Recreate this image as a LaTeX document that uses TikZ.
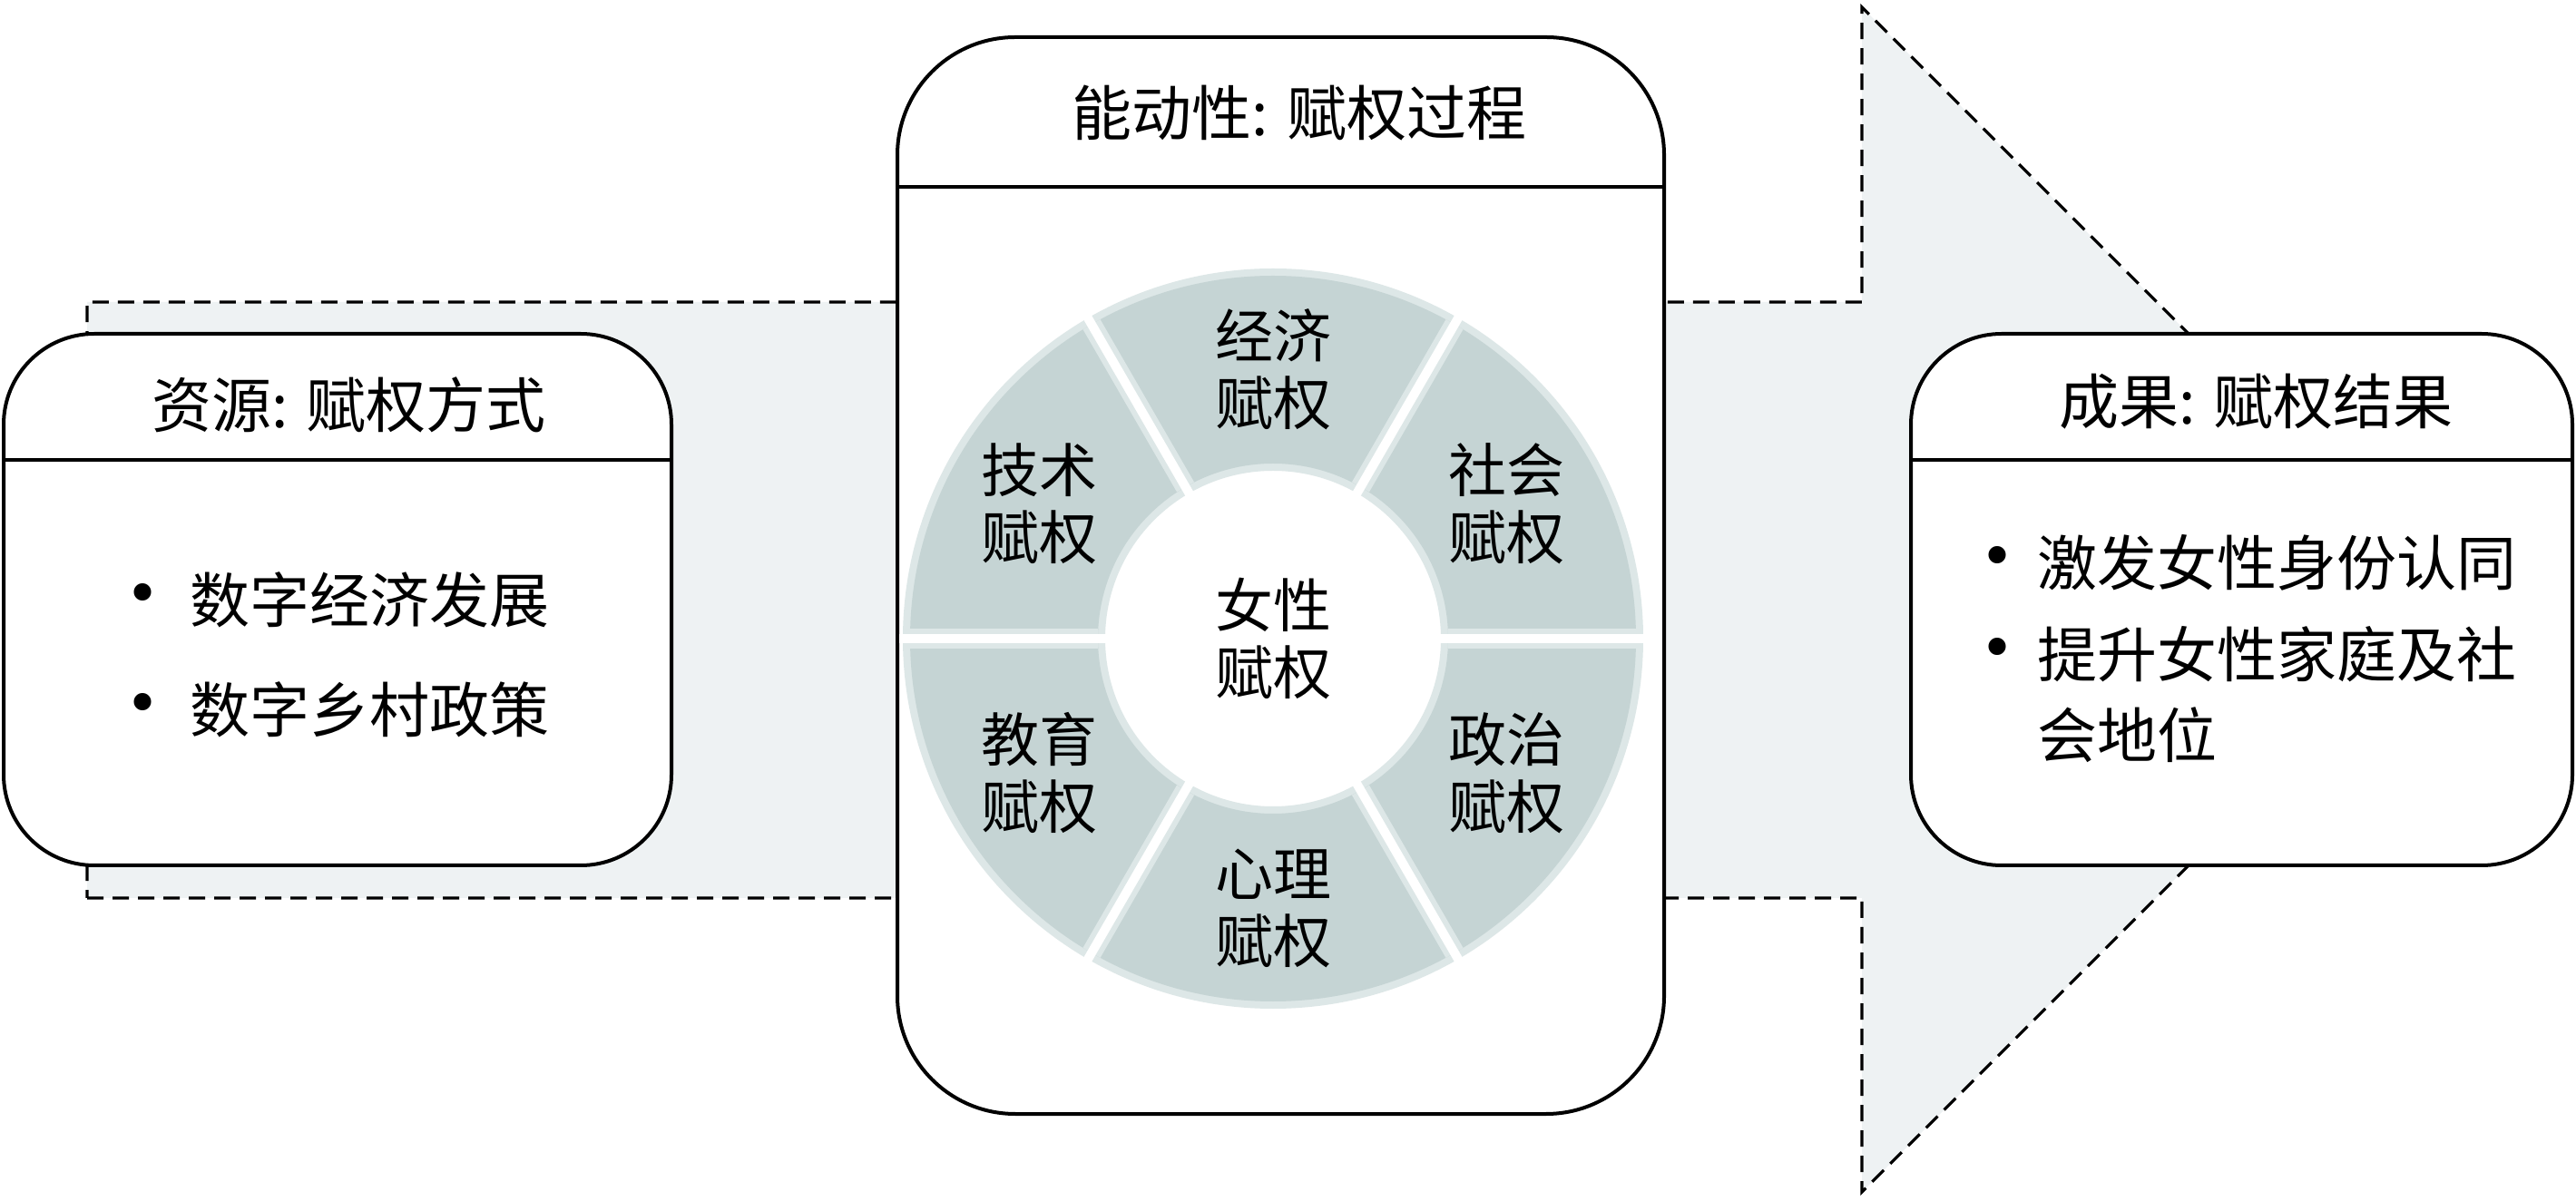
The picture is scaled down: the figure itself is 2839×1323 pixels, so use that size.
\documentclass[tikz,border=0pt]{standalone}
\usepackage{fontspec}
\setmainfont{Liberation Serif}
\newfontfamily\cjk{Noto Sans CJK SC}
\usetikzlibrary{calc}
\definecolor{segcol}{HTML}{C5D4D4}
\definecolor{arrowfill}{HTML}{EEF2F3}
\definecolor{glowcol}{HTML}{DDE7E7}
\begin{document}
\begin{tikzpicture}[x=1pt,y=1pt,
  box/.style={draw=black,line width=4pt,fill=white},
  headline/.style={draw=black,line width=4pt},
  titletext/.style={font=\cjk\fontsize{66}{80}\selectfont,inner sep=0pt},
  itemtext/.style={font=\cjk\fontsize{66}{89}\selectfont,inner sep=0pt,anchor=west},
  dotmark/.style={font=\fontsize{80}{90}\selectfont,inner sep=0pt},
  seglabel/.style={font=\cjk\fontsize{64}{74}\selectfont,align=center,inner sep=0pt},
  dashline/.style={draw=black,line width=3.2pt,dash pattern=on 18pt off 10pt}]
\useasboundingbox (0,0) rectangle (2839,1323);
% big arrow
\fill[arrowfill] (96,333) -- (2052,333) -- (2052,9) -- (2705,662) -- (2052,1315) -- (2052,990) -- (96,990) -- cycle;
\draw[dashline] (96,333) -- (2052,333) -- (2052,9) -- (2705,662) -- (2052,1315) -- (2052,990) -- (96,990) -- cycle;
% left box
\draw[box,rounded corners=100pt] (4,369) rectangle (740,955);
\draw[headline] (4,816) -- (740,816);
\node[titletext] (lt) at (385,877) {资源: 赋权方式};
\node[dotmark] (lb1) at (158,662) {•};
\node[itemtext] (l1) at (209,662) {数字经济发展};
\node[dotmark] (lb2) at (158,541) {•};
\node[itemtext] (l2) at (209,541) {数字乡村政策};
% centre box
\draw[box,rounded corners=130pt] (989,95) rectangle (1834,1282);
\draw[headline] (989,1117) -- (1834,1117);
\node[titletext] (ct) at (1432,1198) {能动性: 赋权过程};
% ring
\coordinate (ring) at (1403,619);
\draw[glowcol,line width=12pt] (ring) circle[radius=402] (ring) circle[radius=191];
\fill[segcol,even odd rule] (ring) circle[radius=400] (ring) circle[radius=193];
\foreach \a in {0,60,...,300}{
  \draw[glowcol,line width=22pt] ([shift={(\a:193)}]ring) -- ([shift={(\a:400)}]ring);
  \draw[white,line width=10pt] ([shift={(\a:180)}]ring) -- ([shift={(\a:412)}]ring);
}
\node[seglabel] (s1) at ([shift={(90:297)}]ring) {经济\\赋权};
\node[seglabel] (s2) at ([shift={(30:297)}]ring) {社会\\赋权};
\node[seglabel] (s3) at ([shift={(150:297)}]ring) {技术\\赋权};
\node[seglabel] (s4) at ([shift={(210:297)}]ring) {教育\\赋权};
\node[seglabel] (s5) at ([shift={(270:297)}]ring) {心理\\赋权};
\node[seglabel] (s6) at ([shift={(330:297)}]ring) {政治\\赋权};
\node[seglabel] (s0) at (ring) {女性\\赋权};
% right box
\draw[box,rounded corners=100pt] (2106,369) rectangle (2835,955);
\draw[headline] (2106,816) -- (2835,816);
\node[titletext] (rt) at (2486,880) {成果: 赋权结果};
\node[dotmark] (rb1) at (2201,703) {•};
\node[itemtext] (r1) at (2245,703) {激发女性身份认同};
\node[dotmark] (rb2) at (2201,602) {•};
\node[itemtext,anchor=north west,align=left] (r2) at (2245,633) {提升女性家庭及社\\会地位};
\end{tikzpicture}
\end{document}
